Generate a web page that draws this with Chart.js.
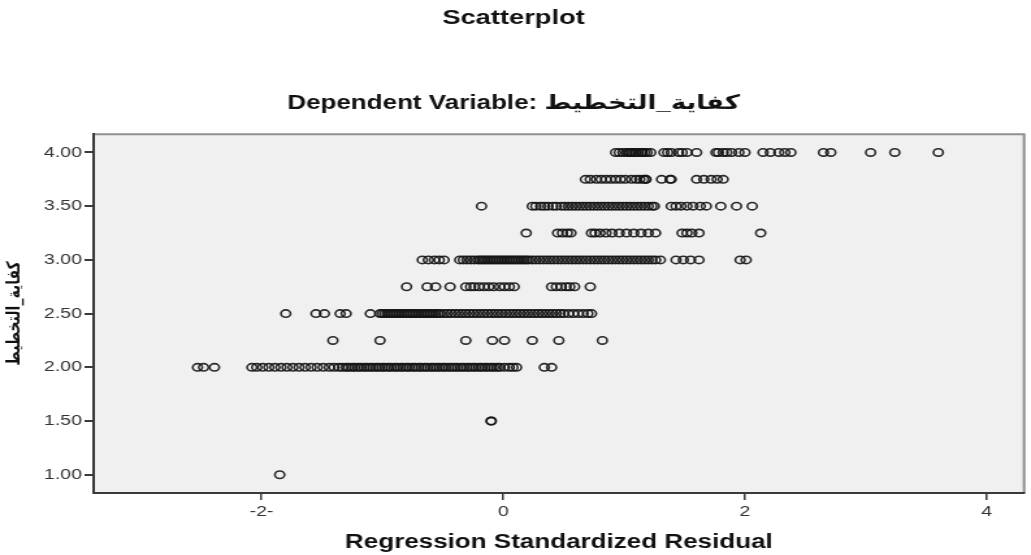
<!DOCTYPE html>
<html>
<head>
<meta charset="utf-8">
<title>Scatterplot</title>
<script src="https://cdn.jsdelivr.net/npm/chart.js@4.4.1/dist/chart.umd.min.js"></script>
<style>
  html, body { margin: 0; padding: 0; background: #fff; overflow: hidden; }
  /* the original picture is stretched sideways, so the canvas is too */
  #wrap { width: 793px; height: 555px; transform: scale(1.3001, 1); transform-origin: 0 0; }
</style>
</head>
<body>
<div id="wrap"><canvas id="chart" width="793" height="555"></canvas></div>
<script>
// dependent variable levels (y) and the standardized residuals seen on each row (x)
var yLevels = [4.00, 3.75, 3.50, 3.25, 3.00, 2.75, 2.50, 2.25, 2.00, 1.50, 1.00];

var r400 = [0.93, 0.96, 0.99, 1.02, 1.04, 1.05, 1.07, 1.09, 1.10, 1.12, 1.14, 1.15, 1.17, 1.19, 1.22,
	1.33, 1.36, 1.39, 1.45, 1.48, 1.52, 1.60,
	1.76, 1.78, 1.82, 1.85, 1.89, 1.95, 2.00,
	2.15, 2.21, 2.28, 2.33, 2.38,
	2.65, 2.71, 3.04, 3.24, 3.60];
var r375 = [0.68, 0.72, 0.77, 0.81, 0.85, 0.89, 0.93, 0.97, 1.01, 1.06, 1.10, 1.13, 1.16, 1.18, 1.18,
	1.31, 1.38, 1.39,
	1.60, 1.66, 1.72, 1.77, 1.82];
var r350 = [-0.18,
	0.24, 0.27, 0.31, 0.34, 0.37, 0.41, 0.44, 0.48, 0.51, 0.54, 0.57, 0.60, 0.63, 0.66, 0.69, 0.72, 0.75,
	0.78, 0.81, 0.84, 0.87, 0.90, 0.93, 0.96, 0.99, 1.02, 1.05, 1.08, 1.11, 1.14, 1.17, 1.20, 1.23, 1.25,
	1.39, 1.43, 1.47, 1.52, 1.57, 1.63, 1.68,
	1.80, 1.93, 2.06];
var r325 = [0.19, 0.45, 0.49, 0.53, 0.56,
	0.73, 0.76, 0.80, 0.85, 0.90, 0.96, 1.02, 1.08, 1.14, 1.20, 1.26,
	1.48, 1.52, 1.56, 1.62, 2.13];
var r300 = [-0.67, -0.62, -0.57, -0.53, -0.49,
	-0.36, -0.33, -0.30, -0.27, -0.24, -0.21, -0.19, -0.17, -0.15, -0.13, -0.11, -0.09, -0.07, -0.05,
	-0.03, -0.01, 0.01, 0.03, 0.05, 0.07, 0.09, 0.11, 0.13, 0.15, 0.17, 0.19, 0.21, 0.24, 0.27, 0.30,
	0.33, 0.36, 0.39, 0.42, 0.45, 0.48, 0.51, 0.54, 0.57, 0.60, 0.63, 0.66, 0.69, 0.72, 0.75, 0.78,
	0.81, 0.84, 0.87, 0.90, 0.93, 0.96, 0.99, 1.02, 1.05, 1.08, 1.11, 1.14, 1.17, 1.20, 1.23, 1.26, 1.30,
	1.43, 1.49, 1.55, 1.62,
	1.96, 2.01];
var r275 = [-0.80, -0.63, -0.56, -0.44,
	-0.31, -0.27, -0.24, -0.20, -0.16, -0.12, -0.08, -0.03, 0.01, 0.05, 0.09,
	0.40, 0.44, 0.48, 0.52, 0.55, 0.59,
	0.72];
var r250 = [-1.80, -1.55, -1.48, -1.35, -1.30, -1.10,
	-1.02, -1.00, -0.98, -0.96, -0.94, -0.92, -0.90, -0.88, -0.86, -0.84, -0.82, -0.80, -0.78, -0.76,
	-0.74, -0.72, -0.70, -0.68, -0.66, -0.64, -0.62, -0.60, -0.58, -0.56, -0.54, -0.52, -0.49, -0.46,
	-0.43, -0.40, -0.37, -0.34, -0.31, -0.28, -0.25, -0.22, -0.19, -0.16, -0.13, -0.10, -0.07, -0.04,
	-0.01, 0.02, 0.05, 0.08, 0.11, 0.14, 0.17, 0.20, 0.23, 0.26, 0.29, 0.32, 0.35, 0.38, 0.41, 0.44, 0.47,
	0.50, 0.54, 0.58, 0.62, 0.66, 0.70, 0.73];
var r225 = [-1.41, -1.02, -0.31, -0.09, 0.01, 0.24, 0.46, 0.82];
var r200 = [-2.53, -2.48, -2.39,
	-2.08, -2.04, -1.99, -1.94, -1.89, -1.84, -1.79, -1.74, -1.69, -1.64, -1.59, -1.54, -1.49, -1.44,
	-1.40, -1.36,
	-1.33, -1.30, -1.28, -1.25, -1.23, -1.20, -1.18, -1.15, -1.13, -1.10, -1.08, -1.05, -1.03, -1.00,
	-0.98, -0.95, -0.93, -0.90, -0.88, -0.85, -0.83, -0.80, -0.78, -0.75, -0.73, -0.70, -0.68, -0.65,
	-0.63, -0.60, -0.58, -0.55, -0.53, -0.50, -0.48, -0.45, -0.43, -0.40, -0.38, -0.35, -0.33, -0.30,
	-0.28, -0.25, -0.23, -0.20, -0.18, -0.15, -0.13, -0.10, -0.08, -0.05, -0.03,
	0.01, 0.05, 0.08, 0.11,
	0.34, 0.40];
var r150 = [-0.10, -0.10];
var r100 = [-1.85];

var residualRows = [r400, r375, r350, r325, r300, r275, r250, r225, r200, r150, r100];

// axis ticks
var xTickValues = [-2, 0, 2, 4];
var xTickLabels = ['-2-', '0', '2', '4'];
var yTickValues = [1.00, 1.50, 2.00, 2.50, 3.00, 3.50, 4.00];
var yTickLabels = ['1.00', '1.50', '2.00', '2.50', '3.00', '3.50', '4.00'];

var titleText = 'Scatterplot';
var subtitleText = 'Dependent Variable: كفاية_التخطيط';
var xTitle = 'Regression Standardized Residual';
var yTitle = 'كفاية_التخطيط';

var points = [];
yLevels.forEach(function(y, i) {
	residualRows[i].forEach(function(x) {
		points.push({x: x, y: y});
	});
});

// grey plot background and the light top / right frame
var plotBg = {
	id: 'plotBg',
	beforeDraw: function(chart) {
		var a = chart.chartArea, ctx = chart.ctx;
		ctx.save();
		ctx.fillStyle = '#f0f0f0';
		ctx.fillRect(a.left, a.top, a.right - a.left, a.bottom - a.top);
		ctx.strokeStyle = '#8e8e8e';
		ctx.lineWidth = 2;
		ctx.beginPath();
		ctx.moveTo(a.left, a.top);
		ctx.lineTo(a.right, a.top);
		ctx.lineTo(a.right, a.bottom);
		ctx.stroke();
		ctx.restore();
	}
};

var sans = "'Liberation Sans', Arial, sans-serif";

var ctx = document.getElementById('chart').getContext('2d');
var chart = new Chart(ctx, {
	type: 'scatter',
	data: {
		datasets: [{
			data: points,
			showLine: false,
			pointStyle: 'circle',
			pointRadius: 3.7,
			pointHoverRadius: 3.7,
			pointBorderWidth: 1.6,
			pointBorderColor: 'rgba(20,20,20,0.9)',
			pointBackgroundColor: 'rgba(0,0,0,0)'
		}]
	},
	options: {
		responsive: false,
		animation: false,
		layout: { padding: { left: 0, right: 3, top: 0, bottom: 0 } },
		plugins: {
			legend: { display: false },
			tooltip: { enabled: false },
			title: {
				display: true,
				text: titleText,
				color: '#111',
				font: { family: sans, size: 21, weight: 'bold' },
				padding: { top: 6, bottom: 0 }
			},
			subtitle: {
				display: true,
				text: subtitleText,
				color: '#111',
				font: { family: "'Liberation Sans', 'DejaVu Sans', sans-serif", size: 20, weight: 'bold' },
				padding: { top: 60, bottom: 19 }
			}
		},
		scales: {
			x: {
				type: 'linear',
				min: -3.39,
				max: 4.31,
				afterBuildTicks: function(axis) {
					axis.ticks = xTickValues.map(function(v) { return {value: v}; });
				},
				afterFit: function(axis) { axis.height = 62; },
				grid: { drawOnChartArea: false, drawTicks: true, tickLength: 7, color: '#3a3a3a', lineWidth: 1.5 },
				border: { color: '#3a3a3a', width: 2 },
				ticks: {
					autoSkip: false,
					maxRotation: 0,
					padding: 3,
					color: '#333',
					font: { family: sans, size: 15 },
					callback: function(v) { return xTickLabels[xTickValues.indexOf(v)]; }
				},
				title: {
					display: true,
					text: xTitle,
					color: '#111',
					font: { family: sans, size: 20, weight: 'bold' },
					padding: { top: 9, bottom: 1 }
				}
			},
			y: {
				type: 'linear',
				min: 0.83,
				max: 4.17,
				afterBuildTicks: function(axis) {
					axis.ticks = yTickValues.map(function(v) { return {value: v}; });
				},
				afterFit: function(axis) { axis.width = 72; },
				grid: { drawOnChartArea: false, drawTicks: true, tickLength: 7, color: '#3a3a3a', lineWidth: 2 },
				border: { color: '#3a3a3a', width: 2 },
				ticks: {
					padding: 2,
					color: '#333',
					font: { family: sans, size: 15 },
					callback: function(v) { return yTickLabels[yTickValues.indexOf(v)]; }
				},
				title: {
					display: true,
					text: yTitle,
					color: '#111',
					font: { family: "'DejaVu Sans', sans-serif", size: 14, weight: 'bold' },
					padding: { top: 3, bottom: 0 }
				}
			}
		}
	},
	plugins: [plotBg]
});
</script>
</body>
</html>
